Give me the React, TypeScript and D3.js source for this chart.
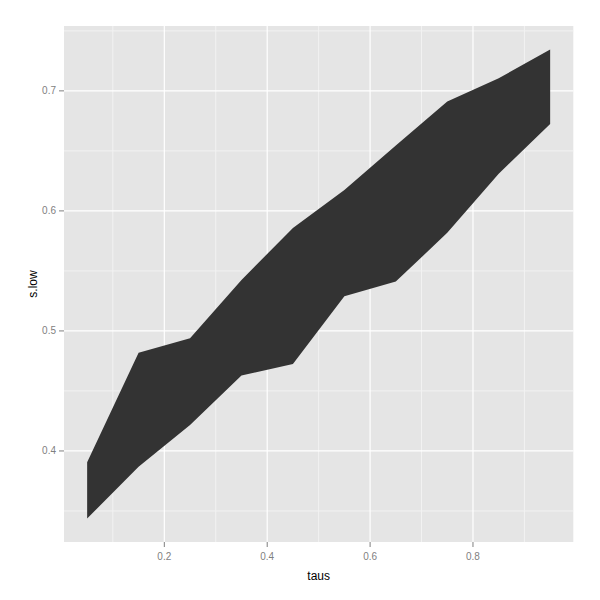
import React from "react";
import * as d3 from "d3";

const taus = [0.05, 0.15, 0.25, 0.35, 0.45, 0.55, 0.65, 0.75, 0.85, 0.95];
const upper = [0.3905, 0.4819, 0.4939, 0.5425, 0.5858, 0.6175, 0.6544, 0.6911, 0.7105, 0.7345];
const lower = [0.3437, 0.3869, 0.4217, 0.4628, 0.4725, 0.5288, 0.5411, 0.5817, 0.6310, 0.6725];
const xMajor = [0.2, 0.4, 0.6, 0.8];
const xMinor = [0.1, 0.3, 0.5, 0.7, 0.9];
const yMajor = [0.4, 0.5, 0.6, 0.7];
const yMinor = [0.35, 0.45, 0.55, 0.65, 0.75];

export default function App() {
  const W = 600, H = 600;
  const left = 64, right = 573.3, top = 26, bottom = 542;
  const xmin = d3.min(taus)!, xmax = d3.max(taus)!;
  const xe = (xmax - xmin) * 0.05;
  const ymin = d3.min(lower)!, ymax = d3.max(upper)!;
  const ye = (ymax - ymin) * 0.05;
  const x = d3.scaleLinear().domain([xmin - xe, xmax + xe]).range([left, right]);
  const y = d3.scaleLinear().domain([ymin - ye, ymax + ye]).range([bottom, top]);
  const data = taus.map((t, i) => ({ t, lo: lower[i], hi: upper[i] }));
  const area = d3.area<any>().x((d) => x(d.t)).y0((d) => y(d.lo)).y1((d) => y(d.hi));
  const font = "'Liberation Sans', Arial, sans-serif";
  return (
    <svg width={W} height={H} style={{ position: "absolute", left: 0, top: 0 }}>
      <rect x={0} y={0} width={W} height={H} fill="#ffffff" />
      <rect x={left} y={top} width={right - left} height={bottom - top} fill="#e5e5e5" />
      {xMinor.map((v) => (
        <line key={"xm" + v} x1={x(v)} x2={x(v)} y1={top} y2={bottom} stroke="#f2f2f2" strokeWidth={1} />
      ))}
      {yMinor.map((v) => (
        <line key={"ym" + v} x1={left} x2={right} y1={y(v)} y2={y(v)} stroke="#f2f2f2" strokeWidth={1} />
      ))}
      {xMajor.map((v) => (
        <line key={"xM" + v} x1={x(v)} x2={x(v)} y1={top} y2={bottom} stroke="#ffffff" strokeWidth={1.2} />
      ))}
      {yMajor.map((v) => (
        <line key={"yM" + v} x1={left} x2={right} y1={y(v)} y2={y(v)} stroke="#ffffff" strokeWidth={1.2} />
      ))}
      <path d={area(data) || ""} fill="#333333" />
      {xMajor.map((v) => (
        <g key={"xt" + v}>
          <line x1={x(v)} x2={x(v)} y1={bottom} y2={bottom + 5} stroke="#7f7f7f" strokeWidth={1} />
          <text x={x(v)} y={bottom + 18} textAnchor="middle" fontFamily={font} fontSize={10} fill="#7f7f7f">
            {v.toFixed(1)}
          </text>
        </g>
      ))}
      {yMajor.map((v) => (
        <g key={"yt" + v}>
          <line x1={left - 5} x2={left} y1={y(v)} y2={y(v)} stroke="#7f7f7f" strokeWidth={1} />
          <text x={left - 8} y={y(v)} dy="0.35em" textAnchor="end" fontFamily={font} fontSize={10} fill="#7f7f7f">
            {v.toFixed(1)}
          </text>
        </g>
      ))}
      <text x={(left + right) / 2} y={580} textAnchor="middle" fontFamily={font} fontSize={12} fill="#000000">
        taus
      </text>
      <text
        transform={`translate(37,${(top + bottom) / 2}) rotate(-90)`}
        textAnchor="middle"
        fontFamily={font}
        fontSize={12}
        fill="#000000"
      >
        s.low
      </text>
    </svg>
  );
}
